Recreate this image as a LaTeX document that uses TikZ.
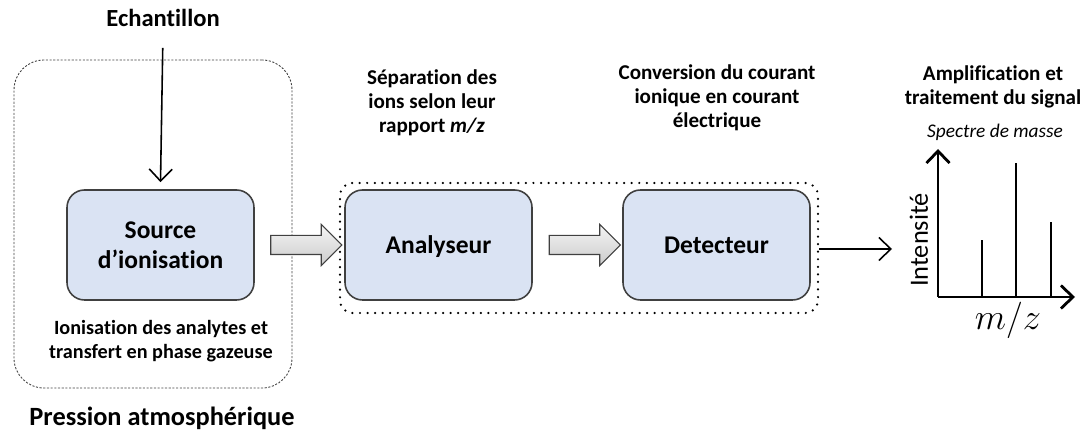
\documentclass[tikz,border=0pt]{standalone}
\usepackage{fontspec}
\setmainfont[Ligatures={NoCommon,NoContextual}]{Carlito}
\usepackage{tikz}
\usetikzlibrary{shapes,arrows,arrows.meta,positioning,calc}
\usepackage{xcolor}
\definecolor{boxblue}{RGB}{218,227,243}
\definecolor{boxline}{RGB}{64,64,64}

\begin{document}
\begin{tikzpicture}[
    bloc/.style={draw=boxline, rounded corners=0.35cm, fill=boxblue, line width=0.9pt, minimum width=3.74cm, minimum height=2.2cm, align=center, font=\fontsize{14.5}{17}\selectfont\bfseries},
    titre/.style={align=center, font=\fontsize{12}{13.6}\selectfont\bfseries},
    grosse/.style={single arrow, draw=boxline, line width=0.6pt, top color=gray!8, bottom color=gray!40, text height=0.18cm, text depth=0.18cm, minimum height=1.42cm, single arrow head extend=0.22cm, inner sep=0pt},
    fleche/.style={-{Straight Barb[length=2.4mm, width=4.6mm]}, line width=0.9pt}
]
    \useasboundingbox (0,0) rectangle (21.62,8.78);

    % Source (pression atmospherique)
    \node[draw=boxline, dashed, dash pattern=on 1.2pt off 0.9pt, rounded corners=0.6cm, line width=0.5pt, minimum width=5.56cm, minimum height=6.56cm] (atm) at (3.06,4.30) {};
    \node[font=\fontsize{14}{16}\selectfont\bfseries] (ech) at (3.26,8.42) {Echantillon};
    \node[bloc] (src) at (3.21,3.88) {Source\\d’ionisation};
    \node[titre, font=\fontsize{11.5}{14}\selectfont\bfseries] (ionis) at (3.22,1.96) {Ionisation des analytes et\\transfert en phase gazeuse};
    \node[font=\fontsize{15}{17}\selectfont\bfseries] (pres) at (3.24,0.42) {Pression atmosphérique};
    \draw[fleche, shorten <=0.3cm] (ech.south) -- ([yshift=0.14cm]src.north);

    % Analyseur + detecteur
    \node[draw=black, line width=1.4pt, dash pattern=on 0pt off 4.3pt, line cap=round, rounded corners=0.25cm, minimum width=9.56cm, minimum height=2.6cm] (vide) at (11.58,3.82) {};
    \node[bloc, text depth=0pt] (ana) at (8.77,3.88) {Analyseur};
    \node[bloc] (det) at (14.33,3.88) {Detecteur};
    \node[grosse] (f1) at (6.03,3.88) {};
    \node[grosse] (f2) at (11.6,3.88) {};
    \node[titre] (sep) at (8.64,6.72) {Séparation des\\ions selon leur\\rapport \textit{m/z}};
    \node[titre] (conv) at (14.34,6.82) {Conversion du courant\\ionique en courant\\électrique};

    % Spectre
    \node[titre] (ampl) at (19.86,7.05) {Amplification et\\traitement du signal};
    \node[font=\fontsize{11}{13}\selectfont\itshape] (spec) at (19.9,6.14) {Spectre de masse};
    \coordinate (o) at (18.76,2.84);
    \coordinate (sig) at (17.84,3.80);
    \draw[fleche] (vide.east |- sig) -- (sig);
    \draw[fleche, line width=1.6pt] (o) -- (18.76,5.8);
    \draw[fleche, line width=1.6pt] (o) -- (21.5,2.84);
    \draw[line width=1.1pt] (19.64,2.84) -- (19.64,3.98);
    \draw[line width=1.1pt] (20.32,2.84) -- (20.32,5.52);
    \draw[line width=1.1pt] (21.02,2.84) -- (21.02,4.34);
    \node[rotate=90, font=\fontsize{15}{17}\selectfont] (int) at (18.38,3.98) {Intensité};
    \node[font=\fontsize{20}{22}\selectfont] (mz) at (20.16,2.38) {$m/z$};
\end{tikzpicture}
\end{document}
